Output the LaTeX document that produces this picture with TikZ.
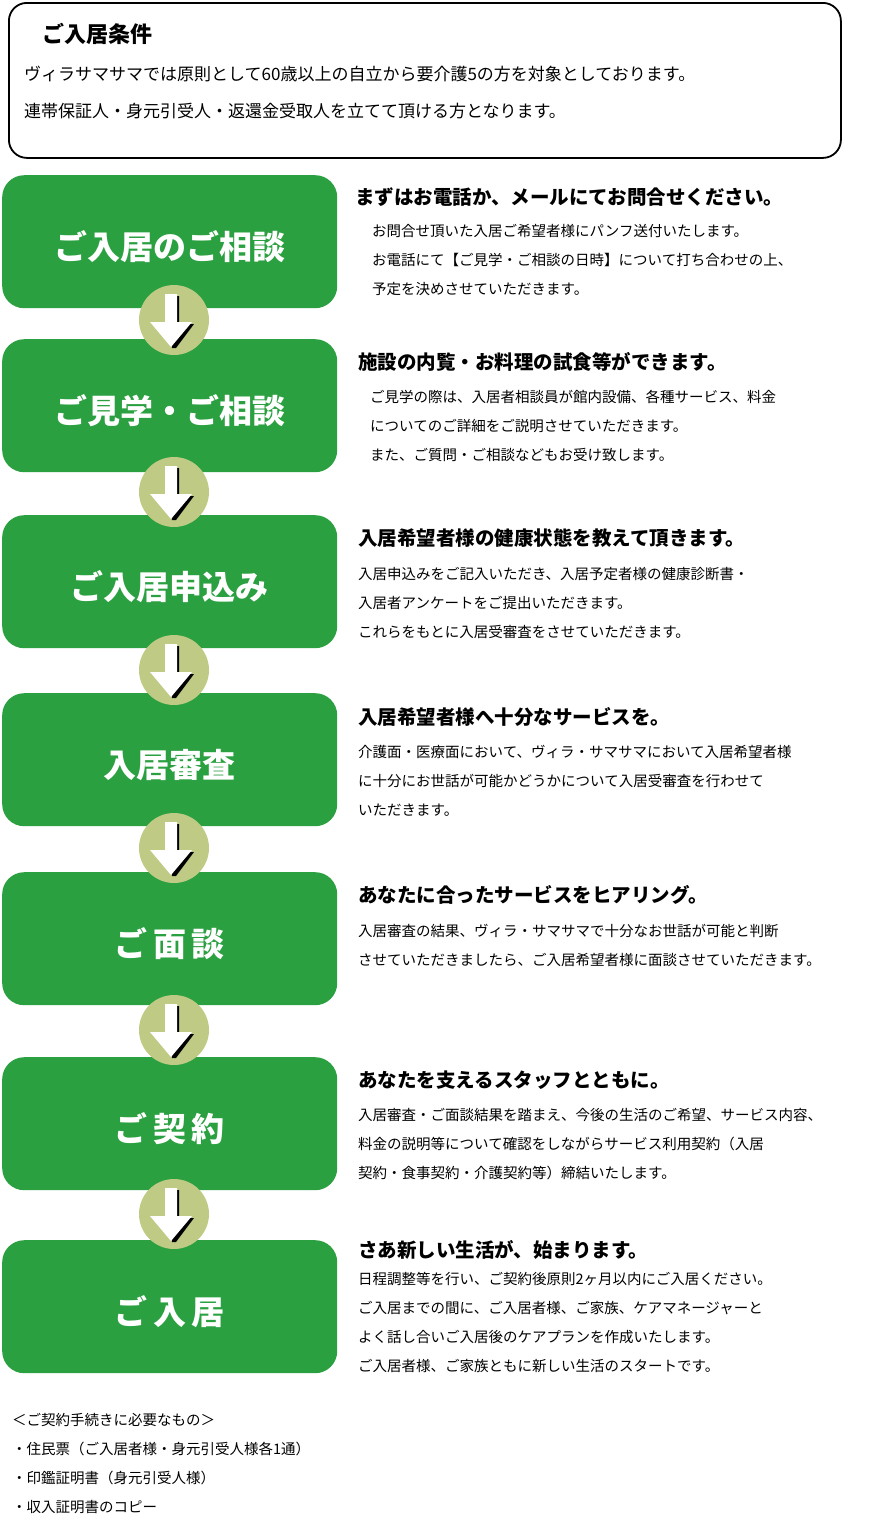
\documentclass[tikz,border=0pt]{standalone}
\usepackage{fontspec}
\setmainfont{Noto Sans CJK JP}
\begin{document}
\begin{tikzpicture}[x=1pt,y=-1pt,
  stepbox/.style={fill=boxg,rounded corners=22pt,minimum width=335pt,minimum height=133pt,anchor=north west,text=white,font=\fontsize{33}{36}\selectfont\bfseries,inner sep=0pt},
  head/.style={anchor=west,font=\fontsize{19.5}{22}\selectfont\bfseries,inner sep=0pt},
  body/.style={anchor=north west,align=left,font=\fontsize{14.5}{29}\selectfont,inner sep=0pt},
  circ/.style={circle,fill=circg,minimum size=70pt,inner sep=0pt}]
\definecolor{boxg}{HTML}{2AA040}
\definecolor{circg}{HTML}{BFCB85}
\useasboundingbox (0,0) rectangle (871,1524);
\node[draw=black,line width=1.8pt,rounded corners=18pt,minimum width=832pt,minimum height=155pt,anchor=north west] (top) at (8,2) {};
\node[anchor=west,font=\fontsize{22}{24}\selectfont\bfseries,inner sep=0pt] (tt) at (42,34) {ご入居条件};
\node[body,font=\fontsize{17}{37}\selectfont] (tb) at (24,66) {ヴィラサマサマでは原則として60歳以上の自立から要介護5の方を対象としております。\\連帯保証人・身元引受人・返還金受取人を立てて頂ける方となります。};
\foreach \i/\y/\t in {1/175/ご入居のご相談,2/339/ご見学・ご相談,3/515/ご入居申込み,4/693/入居審査,5/872/ご\,面\,談,6/1057/ご\,契\,約,7/1240/ご\,入\,居}{
  \node[stepbox] (b\i) at (2,\y) {};
  \node[text=white,font=\fontsize{33}{36}\selectfont\bfseries] (l\i) at ([yshift=-5pt]b\i.center) {\t};
}
\foreach \i/\y in {1/320,2/492,3/670,4/848,5/1030,6/1214}{
  \node[circ] (c\i) at (174,\y) {};
  \fill[black] (168,\y-24) -- (179,\y-24) -- (179,\y+4) -- (194,\y+4) -- (176,\y+28) -- (172,\y+28) -- cycle;
  \fill[white] (165,\y-26) -- (177,\y-26) -- (177,\y+2) -- (192,\y+2) -- (171,\y+27) -- (150,\y+2) -- (165,\y+2) -- cycle;
}
\node[head] (h1) at (355,197) {まずはお電話か、メールにてお問合せください。};
\node[body] (t1) at (372,224) {お問合せ頂いた入居ご希望者様にパンフ送付いたします。\\お電話にて【ご見学・ご相談の日時】について打ち合わせの上、\\予定を決めさせていただきます。};
\node[head] (h2) at (358,362) {施設の内覧・お料理の試食等ができます。};
\node[body] (t2) at (370,390) {ご見学の際は、入居者相談員が館内設備、各種サービス、料金\\についてのご詳細をご説明させていただきます。\\また、ご質問・ご相談などもお受け致します。};
\node[head] (h3) at (358,538) {入居希望者様の健康状態を教えて頂きます。};
\node[body] (t3) at (358,567) {入居申込みをご記入いただき、入居予定者様の健康診断書・\\入居者アンケートをご提出いただきます。\\これらをもとに入居受審査をさせていただきます。};
\node[head] (h4) at (358,717) {入居希望者様へ十分なサービスを。};
\node[body] (t4) at (358,745) {介護面・医療面において、ヴィラ・サマサマにおいて入居希望者様\\に十分にお世話が可能かどうかについて入居受審査を行わせて\\いただきます。};
\node[head] (h5) at (358,895) {あなたに合ったサービスをヒアリング。};
\node[body] (t5) at (358,924) {入居審査の結果、ヴィラ・サマサマで十分なお世話が可能と判断\\させていただきましたら、ご入居希望者様に面談させていただきます。};
\node[head] (h6) at (358,1080) {あなたを支えるスタッフとともに。};
\node[body] (t6) at (358,1108) {入居審査・ご面談結果を踏まえ、今後の生活のご希望、サービス内容、\\料金の説明等について確認をしながらサービス利用契約（入居\\契約・食事契約・介護契約等）締結いたします。};
\node[head] (h7) at (358,1250) {さあ新しい生活が、始まります。};
\node[body] (t7) at (358,1272) {日程調整等を行い、ご契約後原則2ヶ月以内にご入居ください。\\ご入居までの間に、ご入居者様、ご家族、ケアマネージャーと\\よく話し合いご入居後のケアプランを作成いたします。\\ご入居者様、ご家族ともに新しい生活のスタートです。};
\node[body] (n) at (12,1413) {＜ご契約手続きに必要なもの＞\\・住民票（ご入居者様・身元引受人様各1通）\\・印鑑証明書（身元引受人様）\\・収入証明書のコピー};
\end{tikzpicture}
\end{document}
